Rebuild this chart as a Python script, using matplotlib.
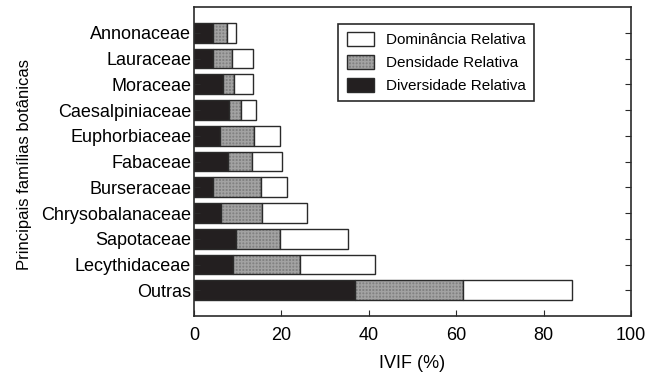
import numpy as np
import matplotlib.pyplot as plt
from matplotlib.patches import Patch

plt.rcParams['font.family'] = ['Liberation Sans', 'DejaVu Sans']

# familias (de abajo hacia arriba)
familias = ['Outras', 'Lecythidaceae', 'Sapotaceae', 'Chrysobalanaceae', 'Burseraceae',
            'Fabaceae', 'Euphorbiaceae', 'Caesalpiniaceae', 'Moraceae', 'Lauraceae', 'Annonaceae']
diversidade = [36.9, 9.0, 9.6, 6.2, 4.4, 7.8, 5.9, 8.1, 6.6, 4.4, 4.4]
densidade = [24.7, 15.2, 10.1, 9.4, 10.9, 5.4, 7.9, 2.6, 2.6, 4.4, 3.2]
dominancia = [25.0, 17.2, 15.6, 10.2, 5.9, 7.0, 5.9, 3.4, 4.3, 4.7, 1.9]

ticks_x = [0, 20, 40, 60, 80, 100]

borde = '#2a2a2a'
gris = '#828282'
trama = '#a2a2a2'
y = np.arange(len(familias))
alto = 0.77
dv = np.array(diversidade)
dn = np.array(densidade)
dm = np.array(dominancia)

fig = plt.figure(figsize=(6.61, 3.75), dpi=100)
ax = fig.add_axes([0.2935, 0.1573, 0.6611, 0.824])

# Diversidade (negro)
ax.barh(y, dv, height=alto, color='#231f20', edgecolor=borde, linewidth=1)
# Densidade (gris con trama)
ax.barh(y, dn, left=dv, height=alto, color=gris, edgecolor=trama,
        linewidth=0, hatch='+++++')
ax.barh(y, dn, left=dv, height=alto, fill=False, edgecolor=borde, linewidth=1)
# Dominancia (blanco)
ax.barh(y, dm, left=dv + dn, height=alto, color='white', edgecolor=borde, linewidth=1)

ax.set_xlim(0, 100)
ax.set_ylim(-1, len(familias))
ax.set_xticks(ticks_x)
ax.set_yticks(y)
ax.set_yticklabels(familias, fontsize=13)
ax.tick_params(axis='x', direction='in', length=4, labelsize=13, pad=8, color=borde)
ax.tick_params(axis='y', direction='in', length=4, right=True, pad=2, color=borde)
for s in ax.spines.values():
    s.set_color(borde)
    s.set_linewidth(1.2)

ax.set_xlabel('IVIF (%)', fontsize=13, labelpad=8)
ax.set_ylabel('Principais famílias botânicas', fontsize=12)
ax.yaxis.set_label_coords(-0.37, 0.49)

h_dom = Patch(facecolor='white', edgecolor=borde, linewidth=1)
h_den = (Patch(facecolor=gris, edgecolor=trama, linewidth=0, hatch='+++++'),
         Patch(fill=False, edgecolor=borde, linewidth=1))
h_div = Patch(facecolor='#231f20', edgecolor=borde, linewidth=1)
leg = ax.legend([h_dom, h_den, h_div],
                ['Dominância Relativa', 'Densidade Relativa', 'Diversidade Relativa'],
                loc='upper left', bbox_to_anchor=(0.33, 0.945), borderaxespad=0,
                fontsize=11, fancybox=False, framealpha=1, edgecolor=borde,
                handlelength=1.8, handleheight=1.0, handletextpad=0.75,
                labelspacing=0.5, borderpad=0.55)
leg.get_frame().set_linewidth(1.2)

plt.savefig('out.png')
